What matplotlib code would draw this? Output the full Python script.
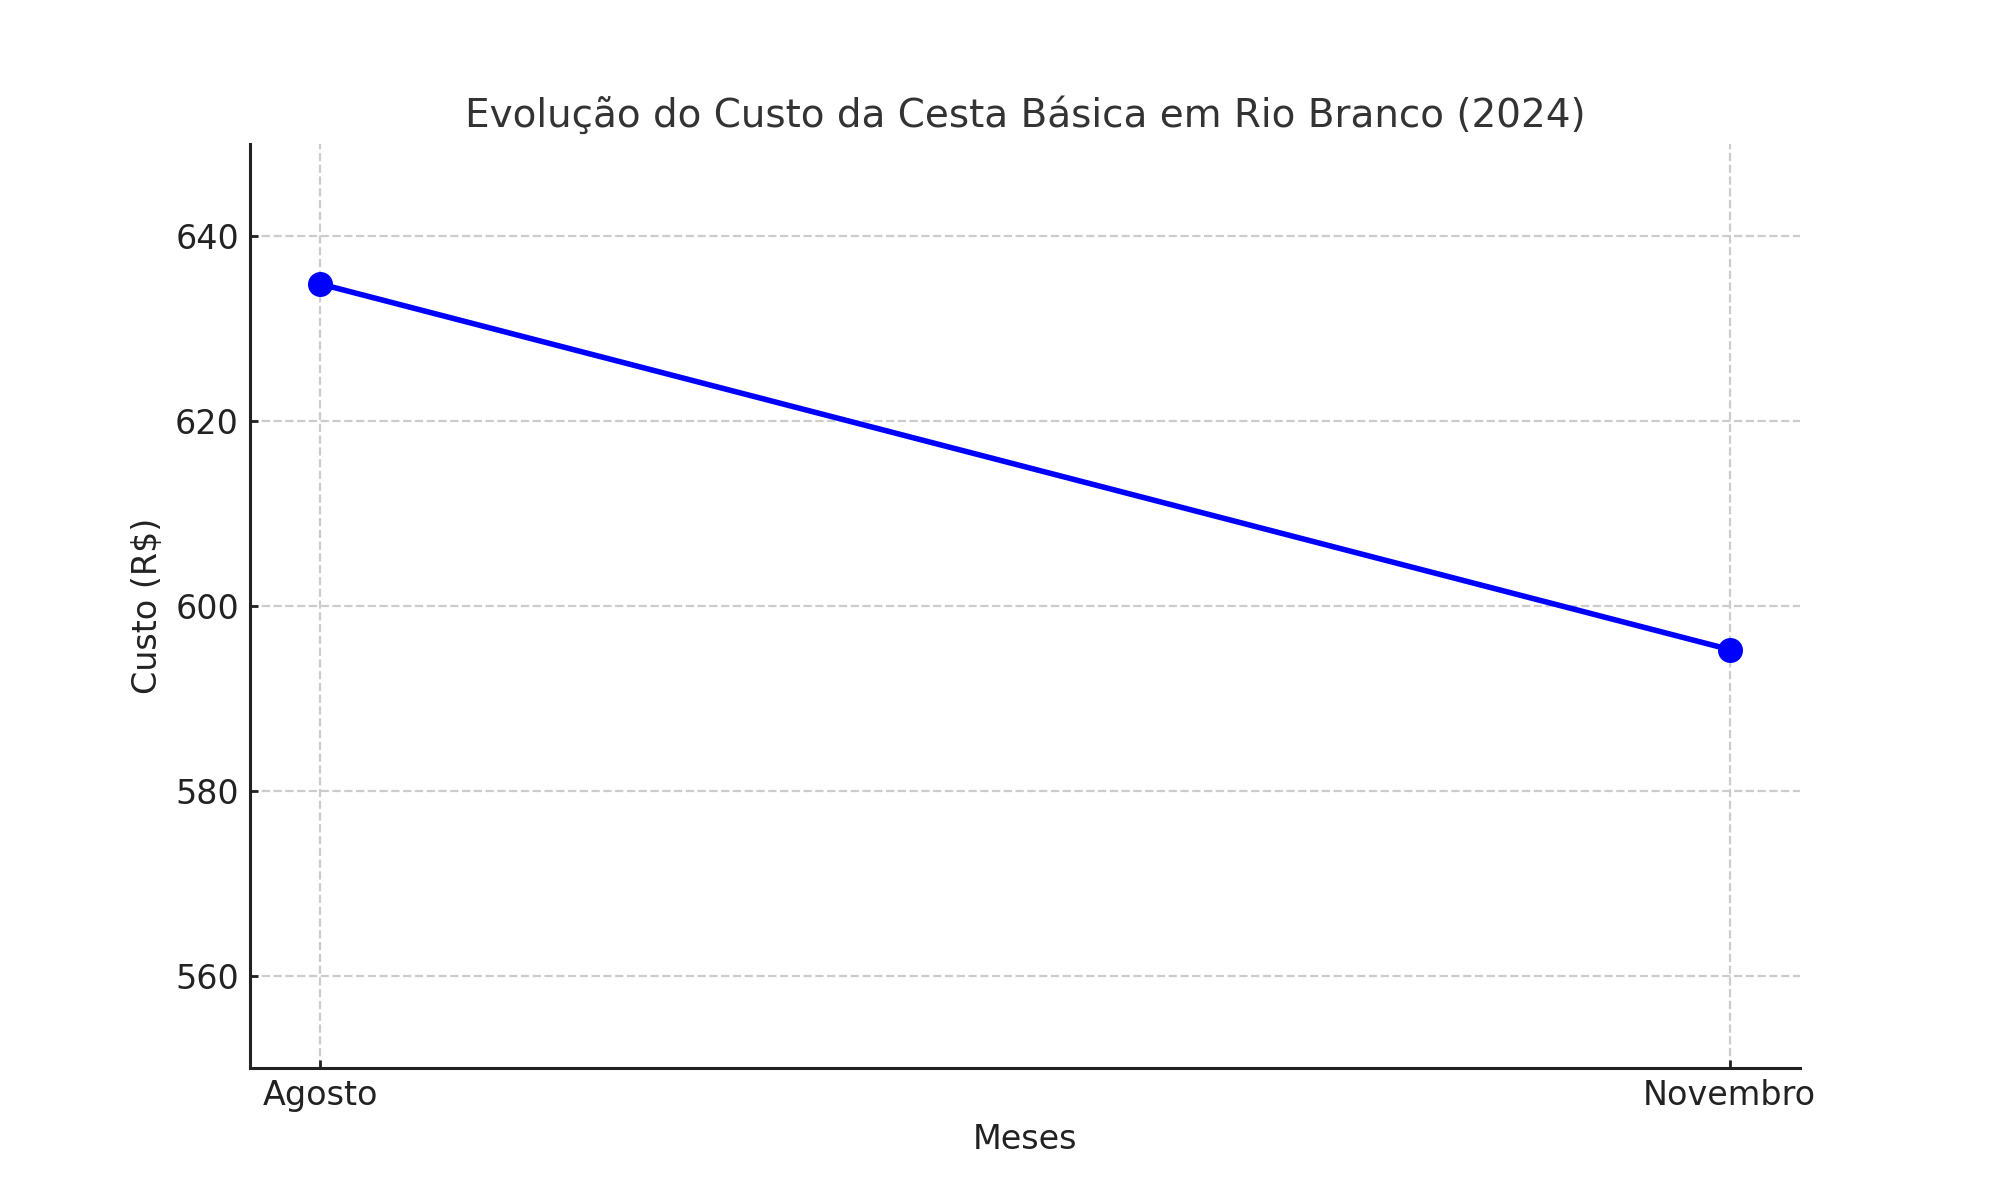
import matplotlib.pyplot as plt

meses = ['Agosto', 'Novembro']
custo = [634.85, 595.29]

fig, ax = plt.subplots(figsize=(10, 6), dpi=200)
ax.plot(meses, custo, marker='o', color='blue', linewidth=2, markersize=8)

ax.set_ylim(550, 650)
ax.set_yticks([560, 580, 600, 620, 640])
ax.set_title('Evolução do Custo da Cesta Básica em Rio Branco (2024)', fontsize=14, color='#333333', pad=6)
ax.set_xlabel('Meses', fontsize=12, color='#222222')
ax.set_ylabel('Custo (R$)', fontsize=12, color='#222222')
ax.tick_params(direction='in', labelsize=12, colors='#222222', length=3, width=1, pad=4)
ax.grid(True, linestyle='--', color='#cccccc', linewidth=0.8)

for s in ['top', 'right']:
    ax.spines[s].set_visible(False)
for s in ['left', 'bottom']:
    ax.spines[s].set_color('#222222')
    ax.spines[s].set_linewidth(1.1)

plt.subplots_adjust(left=0.125, right=0.9, top=0.88, bottom=0.11)
plt.savefig('out.png')
